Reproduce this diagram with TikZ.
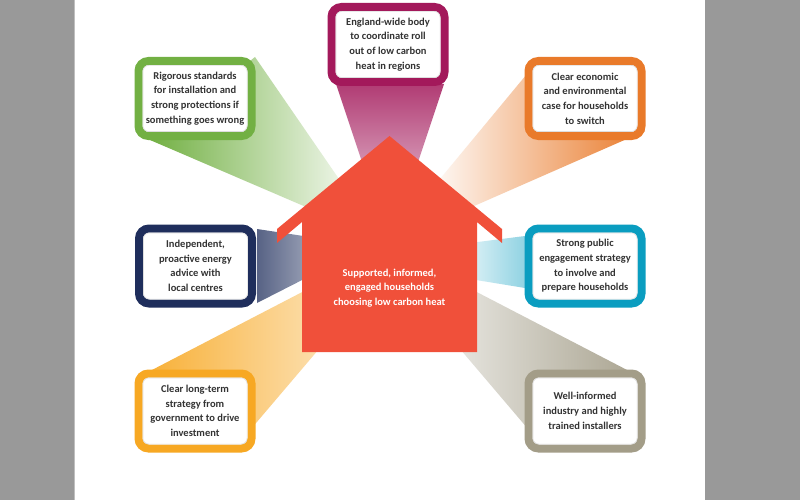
\documentclass[tikz,border=0pt]{standalone}
\usepackage{fontspec}
\setmainfont{Carlito}
\definecolor{maroonc}{HTML}{A3195B}
\definecolor{greenc}{HTML}{72B043}
\definecolor{orangec}{HTML}{E97A2A}
\definecolor{navyc}{HTML}{1F2E5C}
\definecolor{cyanc}{HTML}{0A9DC0}
\definecolor{yellowc}{HTML}{F7A823}
\definecolor{taupec}{HTML}{A39D88}
\definecolor{textc}{HTML}{333333}
\definecolor{housec}{HTML}{F0503A}
\definecolor{sidec}{HTML}{999999}
\begin{document}
\begin{tikzpicture}[x=1pt,y=-1pt,
  boxstyle/.style={draw=#1, line width=8pt, fill=white, rounded corners=10pt,
    minimum width=113pt, minimum height=75pt, align=center, inner sep=0pt, outer sep=0pt,
    font=\bfseries\fontsize{10.5}{14.7}\selectfont, text=textc},
  innerline/.style={draw=black!13, line width=0.7pt, rounded corners=6pt},
  housetext/.style={align=center, text=white, font=\bfseries\fontsize{10.5}{14.5}\selectfont}]
\useasboundingbox (0,0) rectangle (800,500);
% page
\fill[sidec] (0,0) rectangle (800,500);
\fill[white] (75,0) rectangle (705,500);
\draw[black!25, line width=1pt] (74.5,0) -- (74.5,500);
% beams
\shade[top color=maroonc!85, bottom color=maroonc!40] (336,84) -- (444,84) -- (412,180) -- (368,180) -- cycle;
\shade[left color=greenc, right color=greenc!10] (255,57) -- (350,195) -- (320,213) -- (150,140) -- cycle;
\shade[left color=orangec!5, right color=orangec] (541,57) -- (645,131) -- (465,210) -- (435,185) -- cycle;
\shade[left color=navyc!75, right color=navyc!45] (257,229) -- (310,237) -- (310,276) -- (257,303) -- cycle;
\shade[left color=cyanc!15, right color=cyanc!45] (470,243) -- (525,236) -- (525,288) -- (470,279) -- cycle;
\shade[left color=yellowc!90, right color=yellowc!35] (150,371) -- (310,288) -- (330,336) -- (245,436) -- cycle;
\shade[left color=taupec!25, right color=taupec!90] (629,371) -- (469,288) -- (449,336) -- (534,436) -- cycle;
% boxes
\node[boxstyle=maroonc] (top) at (388,44.5) {England-wide body\\to coordinate roll\\out of low carbon\\heat in regions};
\node[boxstyle=greenc] (green) at (195,98.5) {Rigorous standards\\for installation and\\strong protections if\\something goes wrong};
\node[boxstyle=orangec] (orange) at (585,98.5) {Clear economic\\and environmental\\case for households\\to switch};
\node[boxstyle=navyc] (navy) at (195.5,266) {Independent,\\proactive energy\\advice with\\local centres};
\node[boxstyle=cyanc] (cyan) at (585,266) {Strong public\\engagement strategy\\to involve and\\prepare households};
\node[boxstyle=yellowc] (yellow) at (195,411) {Clear long-term\\strategy from\\government to drive\\investment};
\node[boxstyle=taupec] (taupe) at (585,411) {Well-informed\\industry and highly\\trained installers};
\foreach \n in {top,green,orange,navy,cyan,yellow,taupe}
  \draw[innerline] ([xshift=4.4pt,yshift=-4.4pt]\n.north west) rectangle ([xshift=-4.4pt,yshift=4.4pt]\n.south east);
% house
\fill[housec] (389.5,136) -- (502,229) -- (502,243) -- (477,222) -- (477,352) -- (302,352) -- (302,222) -- (277,243) -- (277,229) -- cycle;
\node[housetext] (house) at (389.5,288) {Supported, informed,\\engaged households\\choosing low carbon heat};
\end{tikzpicture}
\end{document}
